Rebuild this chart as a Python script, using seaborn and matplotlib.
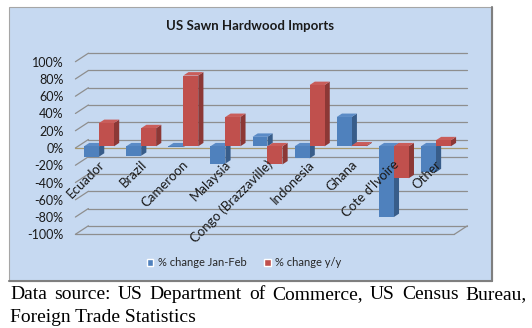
import numpy as np
import pandas as pd
import matplotlib
matplotlib.use("Agg")
import matplotlib.pyplot as plt
import seaborn as sns
from matplotlib.patches import Polygon, Rectangle, Patch
from matplotlib.transforms import ScaledTranslation

# ---------------- data ----------------
categories = ["Ecuador", "Brazil", "Cameroon", "Malaysia", "Congo (Brazzaville)",
              "Indonesia", "Ghana", "Cote d'Ivoire", "Other"]
jan_feb = [-12, -11, -1, -20, 11, -14, 34, -82, -30]
yoy = [27, 21, 82, 34, -21, 71, 1, -37, 7]
series_names = ["% change Jan-Feb", "% change y/y"]
y_ticks = [-100, -80, -60, -40, -20, 0, 20, 40, 60, 80, 100]
y_tick_labels = [f"{v}%" for v in y_ticks]
title = "US Sawn Hardwood Imports"
caption1 = "Data source: US Department of Commerce, US Census Bureau,"
caption2 = "Foreign Trade Statistics"

df = pd.DataFrame({
    "country": categories * 2,
    "series": [series_names[0]] * len(categories) + [series_names[1]] * len(categories),
    "value": jan_feb + yoy,
})

BLUE, RED = "#4F81BD", "#C0504D"
BLUE_SIDE, RED_SIDE = "#385D8A", "#8C3836"
BLUE_TOP, RED_TOP = "#5B8BC6", "#C95D5A"
BG = "#C6D9F1"
GRID = "#8E8E8E"
TXT = "#1a1a1a"

sns.set_theme(style="white")
plt.rcParams['font.family'] = ['Lato', 'DejaVu Sans']

W, H = 532, 328
fig = plt.figure(figsize=(W / 100, H / 100), dpi=100)
fig.patch.set_facecolor("white")


def fx(px):
    return px / W


def fy(py):
    return 1 - py / H


def shift(dx_px, dy_px):
    return ScaledTranslation(dx_px / 100.0, dy_px / 100.0, fig.dpi_scale_trans)


# chart area background
fig.patches.append(Rectangle((fx(9), fy(281)), fx(492) - fx(9), fy(7) - fy(281),
                             transform=fig.transFigure, facecolor=BG,
                             edgecolor="#A6A6A6", lw=0.8, zorder=-2))
fig.lines.append(plt.Line2D([fx(492), fx(492)], [fy(281), fy(7)], transform=fig.transFigure,
                            color="#7F7F7F", lw=1.5, zorder=-1))
fig.lines.append(plt.Line2D([fx(9), fx(492)], [fy(281), fy(281)], transform=fig.transFigure,
                            color="#7F7F7F", lw=1.5, zorder=-1))

ax_l, ax_r, ax_t, ax_b = 78, 457, 60, 232.6
ax = fig.add_axes([fx(ax_l), fy(ax_b), (ax_r - ax_l) / W, (ax_b - ax_t) / H])
ax.set_facecolor("none")
ax.set_zorder(1)

sns.barplot(data=df, x="country", y="value", hue="series", palette=[BLUE, RED],
            width=0.71, ax=ax, legend=False, saturation=1, edgecolor="none", linewidth=0)
ax.set_xlim(-0.5, 8.5)
ax.set_ylim(-100, 100)
for s in ax.spines.values():
    s.set_visible(False)

xt = list(ax.get_xticks())

sx = (ax_r - ax_l) / 9.0      # px per x unit
sy = (ax_b - ax_t) / 200.0    # px per y unit
DEPTH_X, DEPTH_Y = 13.0, 8.5
PLANE = 0.2


def off(d):
    return (DEPTH_X * (d - PLANE) / sx, DEPTH_Y * (d - PLANE) / sy)


fxo, fyo = off(0.0)
bxo, byo = off(1.0)
xl, xr = -0.5, 8.5

# back wall gridlines + left wall diagonals
for yv in y_ticks:
    ax.plot([xl + bxo, xr + bxo], [yv + byo, yv + byo], color=GRID, lw=0.9, zorder=1, clip_on=False)
    ax.plot([xl + fxo, xl + bxo], [yv + fyo, yv + byo], color=GRID, lw=0.9, zorder=1, clip_on=False)
# floor
ax.plot([xl + fxo, xr + fxo], [-100 + fyo, -100 + fyo], color=GRID, lw=0.9, zorder=1, clip_on=False)
ax.plot([xr + fxo, xr + bxo], [-100 + fyo, -100 + byo], color=GRID, lw=0.9, zorder=1, clip_on=False)
# zero front line
ax.plot([xl + fxo, xr + bxo], [0 + fyo, 0 + fyo], color="#A8996E", lw=0.9, zorder=2, clip_on=False)

# 3D faces for the bars
ox = DEPTH_X * 0.4 / sx
oy = DEPTH_Y * 0.4 / sy
bars = []
for ci, cont in enumerate(ax.containers):
    for rect in cont:
        bars.append((rect.get_x(), ci, rect))
bars.sort(key=lambda b: b[0])
for k, (_, ci, rect) in enumerate(bars):
    x0 = rect.get_x()
    x1 = x0 + rect.get_width()
    y0 = rect.get_y()
    y1 = y0 + rect.get_height()
    ylo, yhi = min(y0, y1), max(y0, y1)
    side_c = BLUE_SIDE if ci == 0 else RED_SIDE
    top_c = BLUE_TOP if ci == 0 else RED_TOP
    z = 10 + 3 * k
    ax.add_patch(Polygon([(x1, ylo), (x1, yhi), (x1 + ox, yhi + oy), (x1 + ox, ylo + oy)],
                         closed=True, facecolor=side_c, edgecolor="none", zorder=z))
    ax.add_patch(Polygon([(x0, yhi), (x1, yhi), (x1 + ox, yhi + oy), (x0 + ox, yhi + oy)],
                         closed=True, facecolor=top_c, edgecolor="none", zorder=z + 1))
    rect.set_zorder(z + 2)

# y value labels on the front-left edge
ax.set_yticks([])
ax.set_xticks([])
ax.set_xlabel("")
ax.set_ylabel("")
ylab_tr = ax.transData + shift(-12, -1)
for yv, lab in zip(y_ticks, y_tick_labels):
    ax.text(xl + fxo, yv + fyo, lab, ha="right", va="center", fontsize=9, color=TXT,
            transform=ylab_tr, clip_on=False, zorder=100)

# category labels
lab_tr = ax.transData + shift(-1, -12)
for xpos, cat in zip(xt, categories):
    ax.text(xpos, 0, cat, rotation=45, rotation_mode="anchor", ha="right", va="top",
            fontsize=9.5, color=TXT, transform=lab_tr, zorder=100, clip_on=False)

# title
fig.text(fx(250), fy(26), title, ha="center", va="center", fontsize=9.5, fontweight="bold",
         color=TXT)

# legend
handles = [Patch(facecolor=BLUE, label=series_names[0]), Patch(facecolor=RED, label=series_names[1])]
fig.legend(handles=handles, loc="center", bbox_to_anchor=(fx(244), fy(263)), ncol=2,
           frameon=False, fontsize=8, handlelength=0.6, handleheight=0.6,
           handletextpad=0.4, columnspacing=1.6)

# caption (justified first line)
renderer = fig.canvas.get_renderer()
words = caption1.split(" ")
texts = [fig.text(0, fy(299), w, ha="left", va="baseline", fontsize=14,
                  family="Liberation Serif", color="black") for w in words]
widths = [t.get_window_extent(renderer).width for t in texts]
left_px, right_px = 10, 527
gap = (right_px - left_px - sum(widths)) / (len(words) - 1)
cur = left_px
for t, w in zip(texts, widths):
    t.set_x(fx(cur))
    cur += w + gap
fig.text(fx(10), fy(322), caption2, ha="left", va="baseline", fontsize=14,
         family="Liberation Serif", color="black")

fig.savefig("out.png", dpi=100)
